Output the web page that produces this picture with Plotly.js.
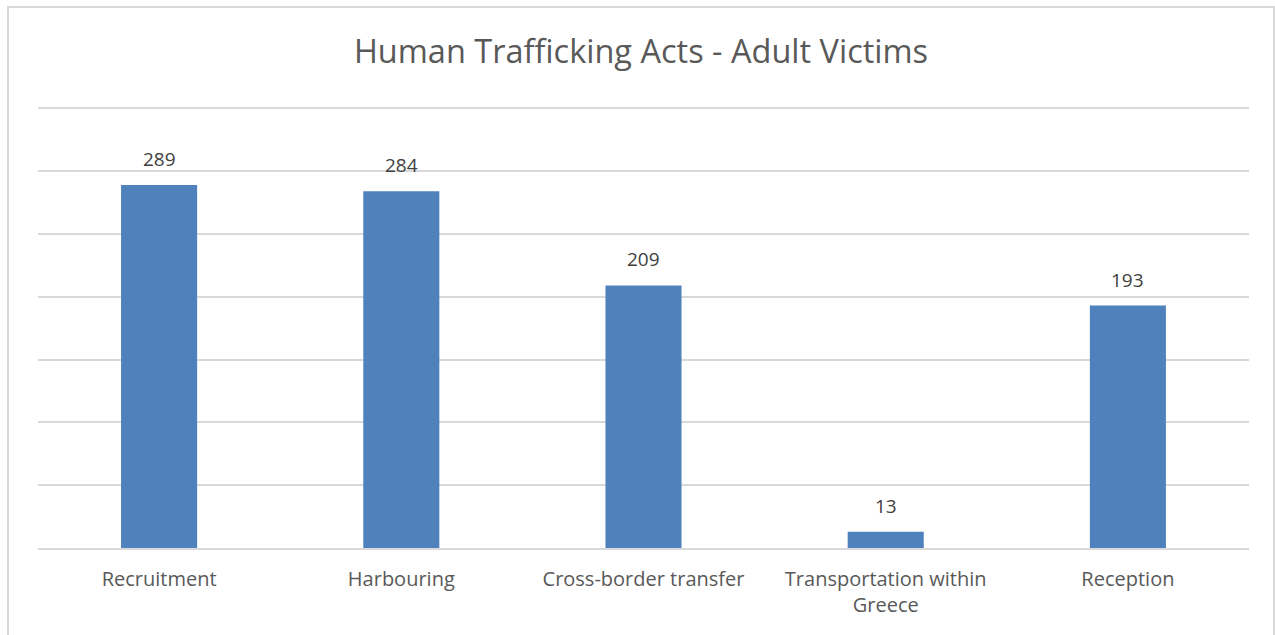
<!DOCTYPE html>
<html>
<head>
<meta charset="utf-8">
<script src="https://cdn.plot.ly/plotly-3.0.1.min.js"></script>
<style>
html,body{margin:0;padding:0;background:#fff;overflow:hidden;}
#frame{position:absolute;left:7px;top:6px;width:1264px;height:640px;border:2px solid #d9d9d9;border-bottom:none;}
#chart{width:1264px;height:629px;}
</style>
</head>
<body>
<div id="frame"><div id="chart"></div></div>
<script>
const categories = ["Recruitment", "Harbouring", "Cross-border transfer", "Transportation within<br>Greece", "Reception"];
const victims = [289, 284, 209, 13, 193];

const trace = {
  type: 'bar',
  x: categories,
  y: victims,
  marker: {color: '#4f81bd'},
  hoverinfo: 'x+y'
};

const labels = categories.map((c, i) => ({
  x: c, y: victims[i], xref: 'x', yref: 'y',
  text: String(victims[i]), showarrow: false,
  yanchor: 'bottom', yshift: 11,
  font: {family: 'Open Sans, sans-serif', size: 19, color: '#404040'}
}));

const layout = {
  width: 1264, height: 629,
  margin: {l: 29, r: 24, t: 99, b: 89},
  paper_bgcolor: '#ffffff', plot_bgcolor: '#ffffff',
  title: {text: 'Human Trafficking Acts - Adult Victims', x: 0.5, xanchor: 'center', y: 0.93, yanchor: 'middle',
          font: {family: 'Open Sans, sans-serif', size: 32.5, color: '#595959'}},
  bargap: 0.686,
  showlegend: false,
  annotations: labels,
  xaxis: {tickfont: {family: 'Open Sans, sans-serif', size: 20, color: '#595959'}, showline: true, linecolor: '#d9d9d9', linewidth: 2, ticks: '', showgrid: false, ticklabelstandoff: 12},
  yaxis: {range: [0, 351], tickvals: [0, 50, 100, 150, 200, 250, 300, 350], showticklabels: false, gridcolor: '#d9d9d9', gridwidth: 2, zeroline: false, ticks: ''}
};

Plotly.newPlot('chart', [trace], layout, {displayModeBar: false, staticPlot: true});
</script>
</body>
</html>
